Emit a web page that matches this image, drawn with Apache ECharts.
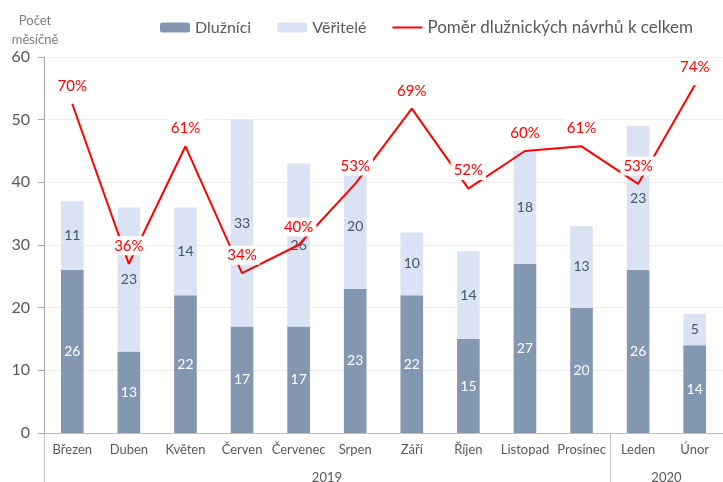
<!DOCTYPE html>
<html>
<head>
<meta charset="utf-8">
<script src="https://cdn.jsdelivr.net/npm/echarts@6/dist/echarts.min.js"></script>
<style>
  html, body { margin: 0; padding: 0; background: #fff; }
  #chart { width: 723px; height: 482px; }
</style>
</head>
<body>
<div id="chart"></div>
<script>
// Měsíce a roky
var months = ["Březen", "Duben", "Květen", "Červen", "Červenec", "Srpen",
  "Září", "Říjen", "Listopad", "Prosinec", "Leden", "Únor"];
var years = ["2019", "2020"];

// Počty návrhů
var dluznici = [26, 13, 22, 17, 17, 23, 22, 15, 27, 20, 26, 14];
var veritele = [11, 23, 14, 33, 26, 20, 10, 14, 18, 13, 23, 5];
// Poměr dlužnických návrhů (v %)
var pomer = [70, 36, 61, 34, 40, 53, 69, 52, 60, 61, 53, 74];

var FONT = "Lato, 'Noto Sans', sans-serif";
var GRAY = "#595959";

var chart = echarts.init(document.getElementById("chart"), null, { renderer: "canvas" });

chart.setOption({
  animation: false,
  textStyle: { fontFamily: FONT },
  graphic: [{
    type: "text",
    x: 35,
    y: 11,
    style: {
      text: "Počet\nměsíčně",
      align: "center",
      fill: "#7f7f7f",
      font: "13px " + FONT,
      lineHeight: 19
    }
  }],
  legend: {
    left: 155,
    top: 14,
    itemWidth: 30,
    itemHeight: 10,
    itemGap: 26,
    textStyle: { fontSize: 16, color: GRAY, fontFamily: FONT },
    data: [
      { name: "Dlužníci" },
      { name: "Věřitelé" },
      { name: "Poměr dlužnických návrhů k celkem", icon: "path://M0,0 L30,0 L30,2 L0,2 Z",
        textStyle: { fontSize: 17 } }
    ]
  },
  grid: { left: 44, right: 0, top: 57, bottom: 49, containLabel: false, outerBoundsMode: "none" },
  xAxis: [{
    type: "category",
    data: months,
    axisLine: { lineStyle: { color: "#bfbfbf" } },
    axisTick: { length: 27, lineStyle: { color: "#bfbfbf" } },
    axisLabel: { color: GRAY, fontSize: 13, margin: 10, interval: 0 }
  }, {
    type: "value",
    min: 0,
    max: 12,
    position: "bottom",
    axisLine: { show: false },
    splitLine: { show: false },
    axisTick: { show: true, length: 49, customValues: [0, 10, 12], lineStyle: { color: "#bfbfbf" } },
    axisLabel: {
      show: true, color: GRAY, fontSize: 13, margin: 38,
      customValues: [5, 11],
      formatter: function (v) { return v < 10 ? years[0] : years[1]; }
    }
  }],
  yAxis: [{
    type: "value",
    min: 0,
    max: 60,
    interval: 10,
    axisLine: { show: true, lineStyle: { color: "#a6a6a6" } },
    axisTick: { show: true, length: 6, lineStyle: { color: "#a6a6a6" } },
    axisLabel: { color: GRAY, fontSize: 16, margin: 14 },
    splitLine: { lineStyle: { color: "#ececec" } }
  }, {
    type: "value",
    min: 0,
    max: 0.8,
    show: false
  }],
  series: [{
    name: "Dlužníci",
    type: "bar",
    stack: "navrhy",
    barWidth: "40%",
    data: dluznici,
    itemStyle: { color: "#8497b0" },
    label: { show: true, position: "inside", color: "#ffffff", fontSize: 14 }
  }, {
    name: "Věřitelé",
    type: "bar",
    stack: "navrhy",
    data: veritele,
    itemStyle: { color: "#dae3f3" },
    label: { show: true, position: "inside", color: "#44546a", fontSize: 14 }
  }, {
    name: "Poměr dlužnických návrhů k celkem",
    type: "line",
    yAxisIndex: 1,
    symbol: "circle",
    symbolSize: 1,
    showSymbol: true,
    data: pomer.map(function (p) { return p / 100; }),
    lineStyle: { color: "#ff0000", width: 2 },
    itemStyle: { color: "#ff0000" },
    z: 5,
    label: {
      show: true,
      position: "top",
      distance: 8,
      color: "#ff0000",
      fontSize: 15,
      backgroundColor: "#ffffff",
      padding: [2, 3],
      formatter: function (p) { return Math.round(p.value * 100) + "%"; }
    }
  }]
});
</script>
</body>
</html>
